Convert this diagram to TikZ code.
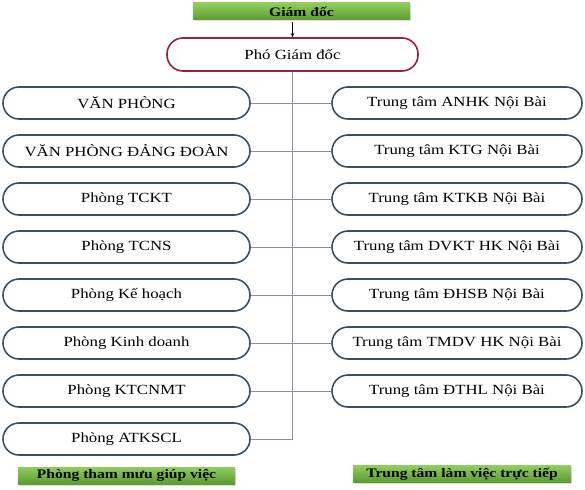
\documentclass[tikz,border=0pt]{standalone}
\usepackage{fontspec}
\setmainfont{Liberation Serif}[FakeStretch=1.2]
\usetikzlibrary{arrows.meta,shadows}
\definecolor{boxline}{HTML}{3A5068}
\definecolor{pgdline}{HTML}{A01E3C}
\definecolor{conn}{HTML}{8C8CB4}
\definecolor{gtop}{HTML}{92CC5E}
\definecolor{gbot}{HTML}{5A9C30}
\tikzset{
  unit/.style={draw=boxline, line width=1.6pt, rounded corners=16pt, fill=white,
    minimum height=32pt, inner sep=0pt, font=\fontsize{14}{16}\selectfont},
  leftunit/.style={unit, minimum width=247pt},
  rightunit/.style={unit, minimum width=250pt},
  pgdbox/.style={draw=pgdline, line width=1.6pt, rounded corners=16pt, fill=white,
    minimum width=251pt, minimum height=33pt, inner sep=0pt, font=\fontsize{14}{16}\selectfont},
  greenbox/.style={top color=gtop, bottom color=gbot, draw=none, minimum height=17pt,
    inner sep=0pt, font=\fontsize{13}{15}\selectfont\bfseries,
    drop shadow={shadow xshift=1pt, shadow yshift=-1.5pt, fill=black!25}},
  connector/.style={draw=conn, line width=0.9pt}
}
\begin{document}
\begin{tikzpicture}[x=1pt,y=-1pt]
\useasboundingbox (0,0) rectangle (585,489);
\fill[white] (0,0) rectangle (585,489);

\node[greenbox, minimum width=217pt] (gd) at (301.5,11.5) {Giám đốc};
\node[pgdbox] (pgd) at (292.5,54.5) {Phó Giám đốc};

\node[leftunit] (l1) at (126.5,103) {VĂN PHÒNG};
\node[leftunit] (l2) at (126.5,151) {VĂN PHÒNG ĐẢNG ĐOÀN};
\node[leftunit] (l3) at (126.5,199) {Phòng TCKT};
\node[leftunit] (l4) at (126.5,247) {Phòng TCNS};
\node[leftunit] (l5) at (126.5,295) {Phòng Kế hoạch};
\node[leftunit] (l6) at (126.5,343) {Phòng Kinh doanh};
\node[leftunit] (l7) at (126.5,391) {Phòng KTCNMT};
\node[leftunit] (l8) at (126.5,439) {Phòng ATKSCL};

\node[rightunit] (r1) at (457,103) {Trung tâm ANHK Nội Bài};
\node[rightunit] (r2) at (457,151) {Trung tâm KTG Nội Bài};
\node[rightunit] (r3) at (457,199) {Trung tâm KTKB Nội Bài};
\node[rightunit] (r4) at (457,247) {Trung tâm DVKT HK Nội Bài};
\node[rightunit] (r5) at (457,295) {Trung tâm ĐHSB Nội Bài};
\node[rightunit] (r6) at (457,343) {Trung tâm TMDV HK Nội Bài};
\node[rightunit] (r7) at (457,391) {Trung tâm ĐTHL Nội Bài};

\node[greenbox, minimum width=217pt] (bl) at (126.5,475.5) {Phòng tham mưu giúp việc};
\node[greenbox, minimum width=218pt] (br) at (462,474) {Trung tâm làm việc trực tiếp};

\coordinate (vend) at (pgd.south |- l8.east);
\draw[connector] (pgd.south) -- (vend) -- (l8.east);
\foreach \i in {1,...,7} {
  \draw[connector] (l\i.east) -- (r\i.west);
}
\draw[black, line width=0.7pt, -{Stealth[length=4pt,width=3.5pt]}] ([yshift=-2pt]gd.south -| pgd.north) -- (pgd.north);
\end{tikzpicture}
\end{document}
